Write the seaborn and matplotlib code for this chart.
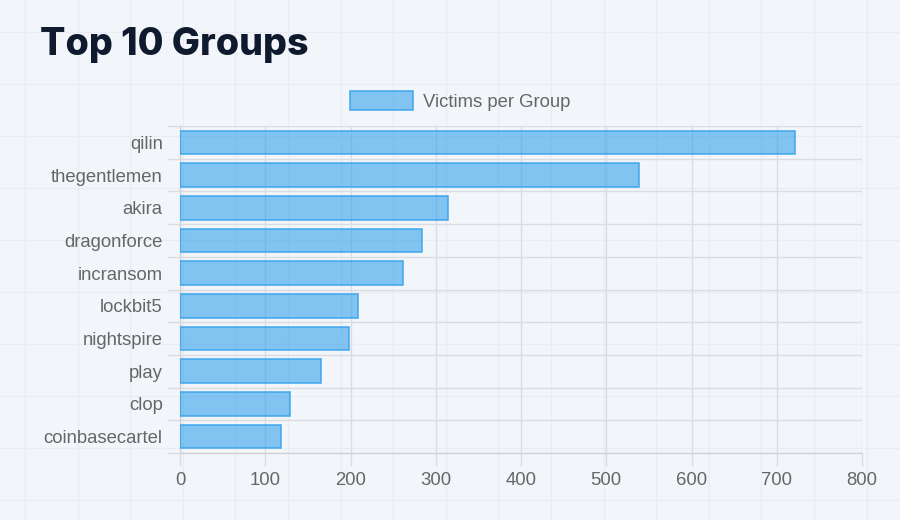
import numpy as np
import pandas as pd
import matplotlib; matplotlib.use('Agg')
import matplotlib.pyplot as plt
from matplotlib.lines import Line2D
import seaborn as sns

# ── data ──
groups = ['qilin', 'thegentlemen', 'akira', 'dragonforce', 'incransom',
          'lockbit5', 'nightspire', 'play', 'clop', 'coinbasecartel']
victims = [721, 538, 314, 284, 261, 209, 198, 165, 129, 119]
x_ticks = [0, 100, 200, 300, 400, 500, 600, 700, 800]
series_name = 'Victims per Group'
title = 'Top 10 Groups'

df = pd.DataFrame({'group': groups, 'victims': victims})

BG = '#f2f5fa'
GRID = '#d9dce1'
TXT = '#666666'
FILL = (54/255, 162/255, 235/255, 0.6)
EDGE = (54/255, 162/255, 235/255, 0.85)

sns.set_theme(style='white')
plt.rcParams['font.family'] = ['Liberation Sans', 'DejaVu Sans']

fig = plt.figure(figsize=(9, 5.2), dpi=100, facecolor=BG)

# faint page grid behind everything
W, H = 900, 520
for x in np.arange(25, W, 52.6):
    fig.add_artist(Line2D([x / W, x / W], [0, 1], color='#e9edf3', lw=1, zorder=0))
for y in np.arange(32, H, 52):
    fig.add_artist(Line2D([0, 1], [1 - y / H, 1 - y / H], color='#e9edf3', lw=1, zorder=0))

ax = fig.add_axes([180 / W, 1 - 453 / H, (862 - 180) / W, (453 - 126) / H])
ax.set_facecolor('none')

sns.barplot(data=df, x='victims', y='group', orient='h', color=FILL[:3],
            width=0.72, ax=ax, zorder=3)
for p in ax.patches:
    p.set_facecolor(FILL)
    p.set_edgecolor(EDGE)
    p.set_linewidth(1.2)

ax.set_xlim(0, 800)
ax.set_xticks(x_ticks)
ax.set_ylim(len(groups) - 0.5, -0.5)
ax.set_xlabel('')
ax.set_ylabel('')

# category-boundary grid like chart.js
ax.set_yticks(np.arange(len(groups)))
ax.set_yticklabels(groups)
for b in np.arange(-0.5, len(groups), 1.0):
    ax.axhline(b, color=GRID, lw=1, zorder=1)
    ax.plot([-0.018, 0], [b, b], color=GRID, lw=1, transform=ax.get_yaxis_transform(),
            clip_on=False, zorder=1)
ax.xaxis.grid(True, color=GRID, lw=1, zorder=1)
ax.set_axisbelow(True)

ax.tick_params(axis='y', length=0, pad=12.5, labelsize=13.3, labelcolor=TXT)
ax.tick_params(axis='x', length=9, width=1, color=GRID, pad=5, labelsize=13.3,
               labelcolor=TXT, bottom=True)
for s in ['top', 'right']:
    ax.spines[s].set_visible(False)
for s in ['left', 'bottom']:
    ax.spines[s].set_color('#cfd3d9')
    ax.spines[s].set_linewidth(1)

# legend
handle = plt.Rectangle((0, 0), 1, 1, facecolor=FILL, edgecolor=EDGE, lw=1.2)
fig.legend([handle], [series_name], loc='center', bbox_to_anchor=(0.511, 1 - 101 / H),
           frameon=False, fontsize=13.3, labelcolor=TXT, handlelength=3.4,
           handleheight=1.15, handletextpad=0.55)

fig.text(40 / W, 1 - 55 / H, title, fontsize=27, fontweight='heavy', color='#0f1a2e',
         family=['Inter', 'DejaVu Sans'], va='baseline', ha='left')

plt.savefig('out.png', dpi=100, facecolor=BG)
